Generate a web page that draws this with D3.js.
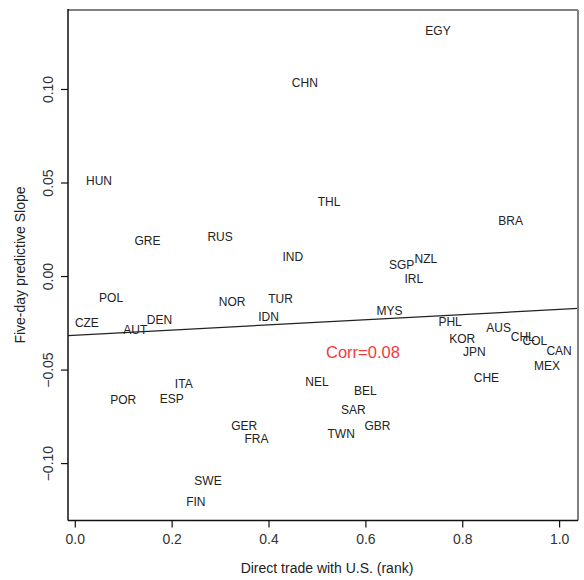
<!DOCTYPE html>
<html>
<head>
<meta charset="utf-8">
<script src="https://cdn.jsdelivr.net/npm/d3@7"></script>
<style>
  body { margin: 0; background: #fff; }
  text { font-family: "Liberation Sans", Arial, sans-serif; }
</style>
</head>
<body>
<div id="chart"></div>
<script>
// country codes, rank of direct trade with U.S. (i/40), five-day predictive slope
var countries = ["CZE","HUN","POL","POR","AUT","GRE","DEN","ESP","ITA","FIN",
                 "SWE","RUS","NOR","GER","FRA","IDN","TUR","IND","CHN","NEL",
                 "THL","TWN","SAR","BEL","GBR","MYS","SGP","IRL","NZL","EGY",
                 "PHL","KOR","JPN","CHE","AUS","BRA","CHL","COL","MEX","CAN"];
var rankX = [0.025,0.050,0.075,0.100,0.125,0.150,0.175,0.200,0.225,0.250,
             0.275,0.300,0.325,0.350,0.375,0.400,0.425,0.450,0.475,0.500,
             0.525,0.550,0.575,0.600,0.625,0.650,0.675,0.700,0.725,0.750,
             0.775,0.800,0.825,0.850,0.875,0.900,0.925,0.950,0.975,1.000];
var slopeY = [-0.0246, 0.0510,-0.0112,-0.0659,-0.0285, 0.0193,-0.0228,-0.0654,-0.0574,-0.1206,
              -0.1091, 0.0212,-0.0134,-0.0798,-0.0868,-0.0214,-0.0118, 0.0105, 0.1034,-0.0561,
               0.0398,-0.0841,-0.0713,-0.0610,-0.0795,-0.0182, 0.0063,-0.0011, 0.0093, 0.1316,
              -0.0242,-0.0332,-0.0401,-0.0543,-0.0274, 0.0296,-0.0324,-0.0345,-0.0474,-0.0397];

// fitted line
var fitIntercept = -0.0314;
var fitSlope = 0.0138;
var corrLabel = "Corr=0.08";
var corrAt = [0.595, -0.0405];

var xTicks = [0, 0.2, 0.4, 0.6, 0.8, 1.0];
var yTicks = [-0.10, -0.05, 0.00, 0.05, 0.10];

var svgWidth = 584, svgHeight = 580;
var box = {left: 68, right: 578, top: 10, bottom: 520.5};

var svg = d3.select("#chart")
  .append("svg")
    .attr("width", svgWidth)
    .attr("height", svgHeight);

// R-style 4% extension of the data range
function padded(vals) {
  var e = d3.extent(vals), d = (e[1] - e[0]) * 0.04;
  return [e[0] - d, e[1] + d];
}

var x = d3.scaleLinear().domain(padded(rankX)).range([box.left, box.right]);
var y = d3.scaleLinear().domain(padded(slopeY)).range([521, 11.5]);

// regression line, clipped to the box
svg.append("clipPath").attr("id", "clip")
  .append("rect")
    .attr("x", box.left).attr("y", box.top)
    .attr("width", box.right - box.left).attr("height", box.bottom - box.top);

var xd = x.domain();
svg.append("line")
    .attr("clip-path", "url(#clip)")
    .attr("x1", x(xd[0])).attr("y1", y(fitIntercept + fitSlope * xd[0]))
    .attr("x2", x(xd[1])).attr("y2", y(fitIntercept + fitSlope * xd[1]))
    .style("stroke", "#222")
    .style("stroke-width", 1.2);

// country labels centred on their points
svg.selectAll(".lab")
  .data(countries)
  .enter()
  .append("text")
    .attr("class", "lab")
    .attr("x", function(d, i) { return x(rankX[i]); })
    .attr("y", function(d, i) { return y(slopeY[i]); })
    .attr("dy", "0.36em")
    .attr("text-anchor", "middle")
    .style("font-size", "12px")
    .style("fill", "#222")
    .text(function(d) { return d; });

svg.append("text")
    .attr("x", x(corrAt[0]))
    .attr("y", y(corrAt[1]))
    .attr("dy", "0.36em")
    .attr("text-anchor", "middle")
    .style("font-size", "16.5px")
    .style("fill", "#f03a3a")
    .text(corrLabel);

// box: top/right gray, left/bottom black
svg.append("line").attr("x1", box.left).attr("x2", box.right).attr("y1", box.top).attr("y2", box.top)
    .style("stroke", "#808080").style("stroke-width", 2);
svg.append("line").attr("x1", box.right).attr("x2", box.right).attr("y1", box.top).attr("y2", box.bottom)
    .style("stroke", "#808080").style("stroke-width", 2);
svg.append("line").attr("x1", box.left).attr("x2", box.left).attr("y1", box.top - 1).attr("y2", box.bottom)
    .style("stroke", "#111").style("stroke-width", 1.5);
svg.append("line").attr("x1", box.left).attr("x2", box.right).attr("y1", box.bottom).attr("y2", box.bottom)
    .style("stroke", "#111").style("stroke-width", 1.5);

// bottom axis
var xAxis = svg.append("g")
    .attr("transform", "translate(0," + box.bottom + ")")
    .call(d3.axisBottom(x).tickValues(xTicks).tickSize(7).tickPadding(7).tickFormat(d3.format(".1f")));
xAxis.select(".domain").remove();

// left axis, labels rotated like R
var yAxis = svg.append("g")
    .attr("transform", "translate(" + box.left + ",0)")
    .call(d3.axisLeft(y).tickValues(yTicks).tickSize(7).tickFormat(d3.format(".2f")));
yAxis.select(".domain").remove();
yAxis.selectAll("text")
    .attr("x", null).attr("dy", null)
    .attr("text-anchor", "middle")
    .attr("transform", function(d) { return "translate(-20," + y(d) + ")rotate(-90)"; })
    .attr("y", 0)
    .attr("dy", "0.36em");
yAxis.selectAll(".tick").attr("transform", null);
yAxis.selectAll(".tick line")
    .attr("y1", function(d) { return y(d); })
    .attr("y2", function(d) { return y(d); });

svg.selectAll(".tick text").style("font-size", "14px").style("fill", "#333")
    .style("font-family", "'Liberation Sans', Arial, sans-serif");
svg.selectAll(".tick line").style("stroke", "#111").style("stroke-width", 1.2);

// axis titles
svg.append("text")
    .attr("text-anchor", "middle")
    .attr("transform", "translate(" + 327 + ",573)")
    .style("font-size", "14px")
    .style("fill", "#222")
    .text("Direct trade with U.S. (rank)");

svg.append("text")
    .attr("text-anchor", "middle")
    .attr("transform", "translate(25," + 265 + ")rotate(-90)")
    .style("font-size", "14px")
    .style("fill", "#222")
    .text("Five-day predictive Slope");
</script>
</body>
</html>
